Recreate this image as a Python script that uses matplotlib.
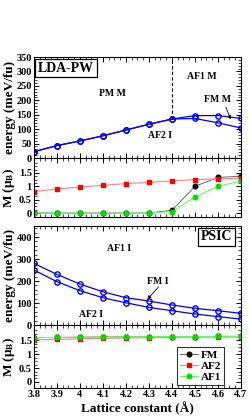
import numpy as np
import matplotlib.pyplot as plt

plt.rcParams['font.family'] = ['Liberation Serif', 'DejaVu Serif']
plt.rcParams['font.weight'] = 'bold'
plt.rcParams['mathtext.fontset'] = 'custom'
plt.rcParams['mathtext.rm'] = 'Liberation Serif:bold'
plt.rcParams['mathtext.it'] = 'Liberation Serif:bold:italic'

a = [3.8, 3.9, 4.0, 4.1, 4.2, 4.3, 4.4, 4.5, 4.6, 4.7]

# LDA-PW energies (meV/fu)
e_lda_1 = [22, 43, 59, 77, 97, 117, 135, 147, 147, 137]
e_lda_2 = [22, 43, 59, 77, 97, 117, 135, 137, 122, 104]
# LDA-PW moments
m_lda_fm = [0, 0, 0, 0, 0, 0, 0.1, 1.0, 1.33, 1.38]
m_lda_af2 = [0.8, 0.9, 0.97, 1.04, 1.1, 1.15, 1.2, 1.25, 1.28, 1.3]
m_lda_af1 = [0, 0, 0, 0, 0, 0, 0.05, 0.6, 1.0, 1.2]

# PSIC energies
e_psic_1 = [280, 230, 186, 151, 124, 109, 91, 76, 65, 53]
e_psic_2 = [250, 197, 156, 124, 101, 80, 65, 50, 38, 27]
# PSIC moments
m_psic_fm = [1.6, 1.61, 1.62, 1.63, 1.63, 1.64, 1.64, 1.64, 1.65, 1.65]
m_psic_af2 = [1.52, 1.54, 1.56, 1.58, 1.59, 1.6, 1.61, 1.62, 1.62, 1.63]
m_psic_af1 = [1.6, 1.61, 1.62, 1.63, 1.63, 1.64, 1.64, 1.64, 1.65, 1.65]

fig = plt.figure(figsize=(2.49, 4.17), dpi=100)
L, W = 0.1365, 0.831
ax1 = fig.add_axes([L, 0.6211, W, 0.2422])
ax2 = fig.add_axes([L, 0.4796, W, 0.1415])
ax3 = fig.add_axes([L, 0.2206, W, 0.2374])
ax4 = fig.add_axes([L, 0.0695, W, 0.1511])

blue = '#0000ff'
tfs = 7.5


def style(ax):
    ax.set_xlim(3.8, 4.7)
    ax.set_xticks(a)
    ax.set_xticks(np.arange(3.8, 4.705, 0.025), minor=True)
    ax.tick_params(which='both', direction='in', top=True, right=True,
                   labelsize=tfs, pad=1.5)
    ax.tick_params(which='major', length=3.5, width=0.7)
    ax.tick_params(which='minor', length=2, width=0.5)
    for s in ax.spines.values():
        s.set_linewidth(0.8)
    for lab in ax.get_yticklabels() + ax.get_xticklabels():
        lab.set_fontweight('bold')


def energy(ax, e1, e2, top):
    ax.plot(a, e1, '-o', color=blue, mfc='none', mec=blue, ms=3.8, mew=1.0, lw=0.9)
    ax.plot(a, e2, '-o', color=blue, mfc='none', mec=blue, ms=3.8, mew=1.0, lw=0.9)
    ax.set_ylim(0, top)
    style(ax)
    ax.set_xticklabels([])
    ax.set_ylabel('energy (meV/fu)', fontsize=9.5, fontweight='bold', labelpad=0.5)


def moment(ax, fm, af2, af1, lo):
    ax.plot(a, fm, '-o', color='#555555', mfc='black', mec='black', ms=3.3, lw=0.6, label='FM')
    ax.plot(a, af2, '-s', color='#ff8080', mfc='red', mec='red', ms=3.0, lw=0.8, label='AF2')
    ax.plot(a, af1, '-o', color='#66ff66', mfc='#00dd00', mec='#00dd00', ms=3.3, lw=0.8, label='AF1')
    ax.set_ylim(lo, 2.06)
    ax.set_yticks([0, 0.5, 1, 1.5])
    ax.set_yticklabels(['0', '0.5', '1', '1.5'])
    ax.set_yticks(np.arange(0, 2.0, 0.125), minor=True)
    style(ax)
    ax.set_ylabel('M (μ$_{\\rm B}$)', fontsize=9.5, fontweight='bold', labelpad=1.5)


energy(ax1, e_lda_1, e_lda_2, 350)
ax1.set_yticks(np.arange(0, 351, 50))
ax1.set_yticks(np.arange(0, 351, 10), minor=True)
ax1.axvline(4.4, ymin=135 / 350, ymax=1, color='black', ls='--', lw=0.8, dashes=(3, 2))
ax1.text(0.02, 0.955, 'LDA-PW', transform=ax1.transAxes, fontsize=10, fontweight='bold',
         ha='left', va='top',
         bbox=dict(boxstyle='square,pad=0.2', fc='white', ec='black', lw=0.9))
ax1.text(4.14, 222, 'PM M', fontsize=7, fontweight='bold', ha='center', va='center')
ax1.text(4.53, 281, 'AF1 M', fontsize=7, fontweight='bold', ha='center', va='center')
ax1.text(4.6, 201, 'FM M', fontsize=7, fontweight='bold', ha='center', va='center')
ax1.annotate('', xy=(4.66, 125), xytext=(4.63, 185),
             arrowprops=dict(arrowstyle='-|>', color='black', lw=0.6, mutation_scale=5))
ax1.text(4.35, 78, 'AF2 I', fontsize=7, fontweight='bold', ha='center', va='center')

moment(ax2, m_lda_fm, m_lda_af2, m_lda_af1, -0.15)
ax2.set_xticklabels([])

energy(ax3, e_psic_1, e_psic_2, 450)
ax3.set_yticks(np.arange(0, 451, 100))
ax3.set_yticks(np.arange(0, 451, 20), minor=True)
ax3.text(0.96, 0.955, 'PSIC', transform=ax3.transAxes, fontsize=10, fontweight='bold',
         ha='right', va='top',
         bbox=dict(boxstyle='square,pad=0.2', fc='white', ec='black', lw=0.9))
ax3.text(4.17, 350, 'AF1 I', fontsize=7, fontweight='bold', ha='center', va='center')
ax3.text(4.05, 48, 'AF2 I', fontsize=7, fontweight='bold', ha='center', va='center')
ax3.text(4.34, 200, 'FM I', fontsize=7, fontweight='bold', ha='center', va='center')
ax3.annotate('', xy=(4.285, 108), xytext=(4.35, 182),
             arrowprops=dict(arrowstyle='-|>', color='black', lw=0.6, mutation_scale=5))

moment(ax4, m_psic_fm, m_psic_af2, m_psic_af1, -0.22)
ax4.set_xticklabels(['3.8', '3.9', '4', '4.1', '4.2', '4.3', '4.4', '4.5', '4.6', '4.7'])
for lab in ax4.get_xticklabels():
    lab.set_fontweight('bold')
ax4.set_xlabel('Lattice constant (Å)', fontsize=9.5, fontweight='bold', labelpad=2)
leg = ax4.legend(loc='lower right', bbox_to_anchor=(0.93, 0.02), fontsize=8,
                 frameon=True, fancybox=False, edgecolor='black', handlelength=1.6,
                 handletextpad=0.3, borderpad=0.25, labelspacing=0.1, borderaxespad=0.2)
leg.get_frame().set_linewidth(0.8)
for t in leg.get_texts():
    t.set_fontweight('bold')

fig.savefig('out.png', dpi=100)
